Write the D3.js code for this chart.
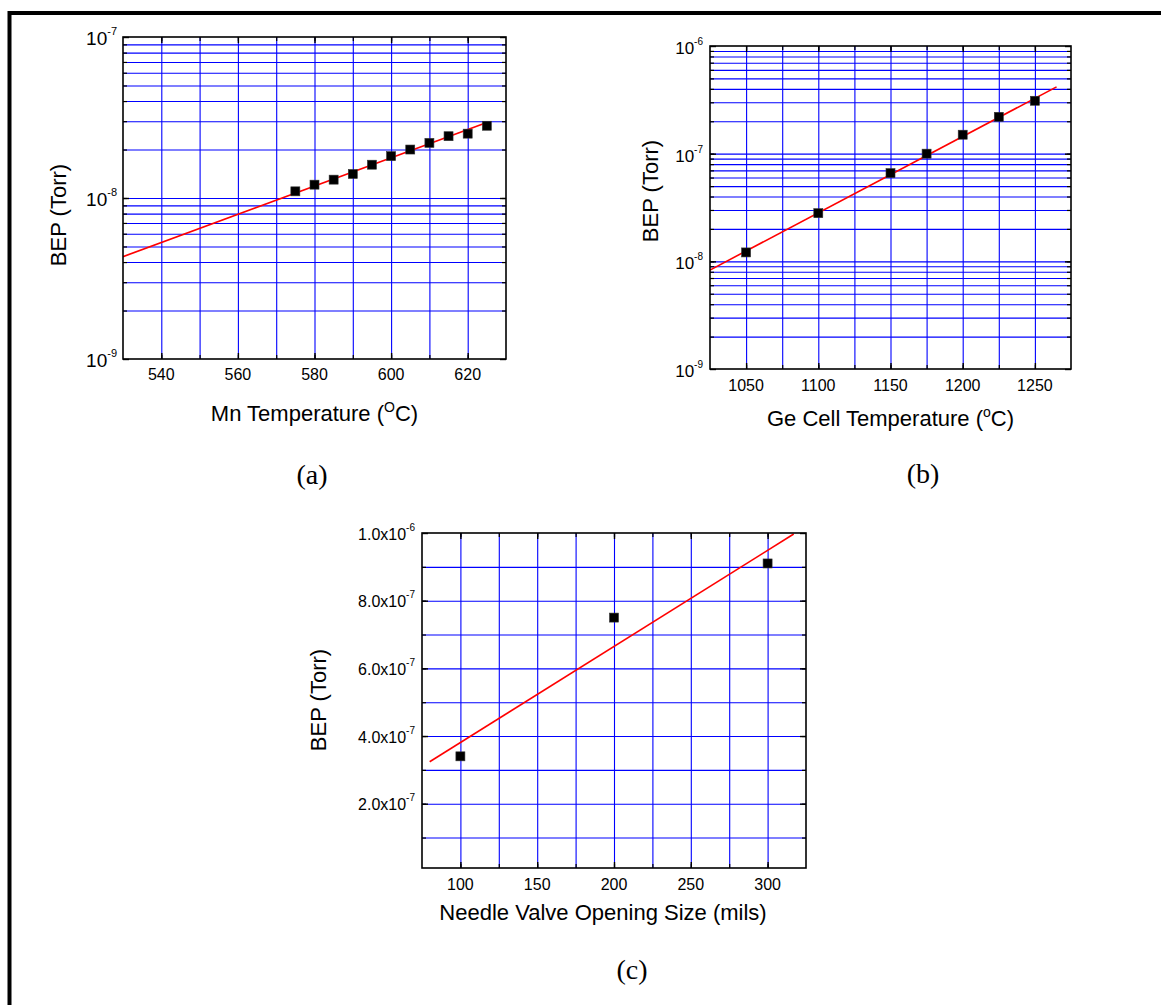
<!DOCTYPE html>
<html>
<head>
<meta charset="utf-8">
<script src="https://cdn.jsdelivr.net/npm/d3@7"></script>
<style>
  body { margin: 0; background: #fff; }
  text { font-family: "Liberation Sans", Arial, sans-serif; fill: #000; }
  .cap { font-family: "Liberation Serif", "Times New Roman", serif; }
</style>
</head>
<body>
<div id="chart"></div>
<script>
// (a) Mn cell
const mnTemp = [575, 580, 585, 590, 595, 600, 605, 610, 615, 620, 625]
const mnBep = [1.1e-8, 1.21e-8, 1.3e-8, 1.41e-8, 1.61e-8, 1.82e-8, 2.0e-8, 2.2e-8, 2.42e-8, 2.51e-8, 2.81e-8]
const mnFitTemp = [530, 625]
const mnFitBep = [4.32e-9, 2.94e-8]
const mnXTicks = [540, 560, 580, 600, 620]
const mnYTicks = [1e-9, 1e-8, 1e-7]
const mnYLabels = [["10", "-9"], ["10", "-8"], ["10", "-7"]]

// (b) Ge cell
const geTemp = [1050, 1100, 1150, 1175, 1200, 1225, 1250]
const geBep = [1.21e-8, 2.8e-8, 6.6e-8, 1.0e-7, 1.5e-7, 2.2e-7, 3.1e-7]
const geFitTemp = [1025, 1265]
const geFitBep = [8.3e-9, 4.17e-7]
const geXTicks = [1050, 1100, 1150, 1200, 1250]
const geYTicks = [1e-9, 1e-8, 1e-7, 1e-6]
const geYLabels = [["10", "-9"], ["10", "-8"], ["10", "-7"], ["10", "-6"]]

// (c) needle valve
const valveSize = [100, 200, 300]
const valveBep = [3.4e-7, 7.5e-7, 9.1e-7]
const valveFitSize = [80, 317]
const valveFitBep = [3.24e-7, 9.97e-7]
const valveXTicks = [100, 150, 200, 250, 300]
const valveYTicks = [2e-7, 4e-7, 6e-7, 8e-7, 1e-6]
const valveYLabels = [["2.0x10", "-7"], ["4.0x10", "-7"], ["6.0x10", "-7"], ["8.0x10", "-7"], ["1.0x10", "-6"]]

const width = 1161
const height = 1005

const svg = d3.select("#chart")
    .append("svg")
    .attr("width", width)
    .attr("height", height)

// page frame (only top and left edges show)
svg.append("line").attr("x1", 8).attr("x2", width).attr("y1", 13).attr("y2", 13)
    .attr("stroke", "#000").attr("stroke-width", 4)
svg.append("line").attr("x1", 9.5).attr("x2", 9.5).attr("y1", 11).attr("y2", height)
    .attr("stroke", "#000").attr("stroke-width", 4)

const panel = function (cfg) {
    const {left, right, top, bottom} = cfg
    const g = svg.append("g")

    const x = d3.scaleLinear().domain(cfg.xDomain).range([left, right])
    const y = (cfg.log ? d3.scaleLog() : d3.scaleLinear()).domain(cfg.yDomain).range([bottom, top])

    const xGrid = d3.range(cfg.xDomain[0] + cfg.xStep, cfg.xDomain[1] - 1e-9, cfg.xStep)
    const yGrid = cfg.log
        ? y.ticks().filter(v => v > cfg.yDomain[0] * 1.0001 && v < cfg.yDomain[1] * 0.9999)
        : d3.range(1, Math.round(cfg.yDomain[1] / cfg.yStep)).map(i => i * cfg.yStep)

    // grid
    const gridX = g.append("g")
        .attr("transform", `translate(0,${bottom})`)
        .call(d3.axisBottom(x).tickValues(xGrid).tickSize(-(bottom - top)).tickFormat(""))
    gridX.select(".domain").remove()
    gridX.selectAll("line").attr("stroke", "#0000ff").attr("stroke-width", 1.1)

    const gridY = g.append("g")
        .attr("transform", `translate(${left},0)`)
        .call(d3.axisLeft(y).tickValues(yGrid).tickSize(-(right - left)).tickFormat(""))
    gridY.select(".domain").remove()
    gridY.selectAll("line").attr("stroke", "#0000ff").attr("stroke-width", 1.1)

    // inward ticks on all four sides
    const sides = [
        [d3.axisBottom(x), `translate(0,${bottom})`, xGrid, cfg.xTicks],
        [d3.axisTop(x), `translate(0,${top})`, xGrid, cfg.xTicks],
        [d3.axisLeft(y), `translate(${left},0)`, yGrid, cfg.yTicks],
        [d3.axisRight(y), `translate(${right},0)`, yGrid, cfg.yTicks]
    ]
    sides.forEach(([ax, tr, minor, major]) => {
        const t1 = g.append("g").attr("transform", tr)
            .call(ax.tickValues(minor).tickSizeInner(-4).tickSizeOuter(0).tickFormat(""))
        t1.select(".domain").remove()
        t1.selectAll("line").attr("stroke", "#000").attr("stroke-width", 1.2)
        const t2 = g.append("g").attr("transform", tr)
            .call(ax.tickValues(major).tickSizeInner(-6).tickSizeOuter(0).tickFormat(""))
        t2.select(".domain").remove()
        t2.selectAll("line").attr("stroke", "#000").attr("stroke-width", 1.4)
    })

    // fit line
    const clipId = "clip-" + cfg.id
    g.append("clipPath").attr("id", clipId)
        .append("rect").attr("x", left).attr("y", top)
        .attr("width", right - left).attr("height", bottom - top)

    const fit = d3.zip(cfg.fitX, cfg.fitY)
    g.append("path")
        .datum(fit)
        .attr("clip-path", `url(#${clipId})`)
        .attr("fill", "none")
        .attr("stroke", "#ff0000")
        .attr("stroke-width", 1.6)
        .attr("d", d3.line().x(d => x(d[0])).y(d => y(d[1])))

    // points
    const s = 9
    g.append("g")
        .selectAll("rect")
        .data(d3.zip(cfg.px, cfg.py))
        .enter()
        .append("rect")
        .attr("x", d => x(d[0]) - s / 2)
        .attr("y", d => y(d[1]) - s / 2)
        .attr("width", s)
        .attr("height", s)
        .attr("fill", "#000")
        .attr("stroke", "#333")
        .attr("stroke-width", 0.6)

    // frame
    g.append("rect")
        .attr("x", left).attr("y", top)
        .attr("width", right - left).attr("height", bottom - top)
        .attr("fill", "none")
        .attr("stroke", "#000")
        .attr("stroke-width", 1.6)

    // x tick labels
    g.append("g")
        .selectAll("text")
        .data(cfg.xTicks)
        .enter()
        .append("text")
        .attr("x", d => x(d))
        .attr("y", bottom + cfg.xLabelDy)
        .attr("text-anchor", "middle")
        .style("font-size", "16px")
        .text(d => d)

    // y tick labels with superscripts
    const yl = g.append("g")
        .selectAll("text")
        .data(d3.zip(cfg.yTicks, cfg.yLabels))
        .enter()
        .append("text")
        .attr("x", left - cfg.yLabelGap)
        .attr("y", d => y(d[0]) + cfg.yLabelDy)
        .attr("text-anchor", "end")
        .style("font-size", cfg.yLabelSize + "px")
    yl.append("tspan").text(d => d[1][0])
    yl.append("tspan")
        .attr("dy", cfg.supDy)
        .style("font-size", cfg.supSize + "px")
        .text(d => d[1][1])

    // axis titles
    const xt = g.append("text")
        .attr("x", cfg.xTitleX !== undefined ? cfg.xTitleX : (left + right) / 2)
        .attr("y", bottom + cfg.xTitleDy)
        .attr("text-anchor", "middle")
        .style("font-size", "22px")
    cfg.xTitle.forEach(part => {
        const t = xt.append("tspan").text(part.t)
        if (part.sup) t.attr("dy", -9).style("font-size", "14px")
        if (part.down) t.attr("dy", 9)
    })

    g.append("text")
        .attr("transform", `translate(${cfg.yTitleX},${cfg.yTitleY}) rotate(-90)`)
        .attr("text-anchor", "middle")
        .attr("dy", "0.35em")
        .style("font-size", "22px")
        .text("BEP (Torr)")

    // caption
    g.append("text")
        .attr("class", "cap")
        .attr("x", cfg.capX)
        .attr("y", cfg.capY)
        .attr("text-anchor", "middle")
        .style("font-size", "28px")
        .text(cfg.caption)
}

panel({
    id: "a", left: 123, right: 506, top: 37, bottom: 359,
    xDomain: [530, 630], xStep: 10, log: true, yDomain: [1e-9, 1e-7],
    px: mnTemp, py: mnBep, fitX: mnFitTemp, fitY: mnFitBep,
    xTicks: mnXTicks, yTicks: mnYTicks, yLabels: mnYLabels,
    xLabelDy: 21, yLabelGap: 6, yLabelDy: 8, yLabelSize: 19, supSize: 11, supDy: -10,
    xTitle: [{t: "Mn Temperature ("}, {t: "O", sup: true}, {t: "C)", down: true}],
    xTitleDy: 62, yTitleX: 58, yTitleY: 215,
    caption: "(a)", capX: 312, capY: 484
})

panel({
    id: "b", left: 710, right: 1071, top: 46, bottom: 369,
    xDomain: [1025, 1275], xStep: 25, log: true, yDomain: [1e-9, 1e-6],
    px: geTemp, py: geBep, fitX: geFitTemp, fitY: geFitBep,
    xTicks: geXTicks, yTicks: geYTicks, yLabels: geYLabels,
    xLabelDy: 22, yLabelGap: 7, yLabelDy: 8, yLabelSize: 17, supSize: 10, supDy: -9,
    xTitle: [{t: "Ge Cell Temperature ("}, {t: "o", sup: true}, {t: "C)", down: true}],
    xTitleDy: 57, yTitleX: 650, yTitleY: 191,
    caption: "(b)", capX: 923, capY: 483
})

panel({
    id: "c", left: 422, right: 806, top: 533, bottom: 868,
    xDomain: [75, 325], xStep: 25, log: false, yDomain: [1e-8, 1e-6], yStep: 1e-7,
    px: valveSize, py: valveBep, fitX: valveFitSize, fitY: valveFitBep,
    xTicks: valveXTicks, yTicks: valveYTicks, yLabels: valveYLabels,
    xLabelDy: 22, yLabelGap: 7, yLabelDy: 6.5, yLabelSize: 16, supSize: 10, supDy: -9,
    xTitle: [{t: "Needle Valve Opening Size (mils)"}],
    xTitleDy: 52, xTitleX: 603, yTitleX: 318, yTitleY: 700,
    caption: "(c)", capX: 632, capY: 979
})
</script>
</body>
</html>
